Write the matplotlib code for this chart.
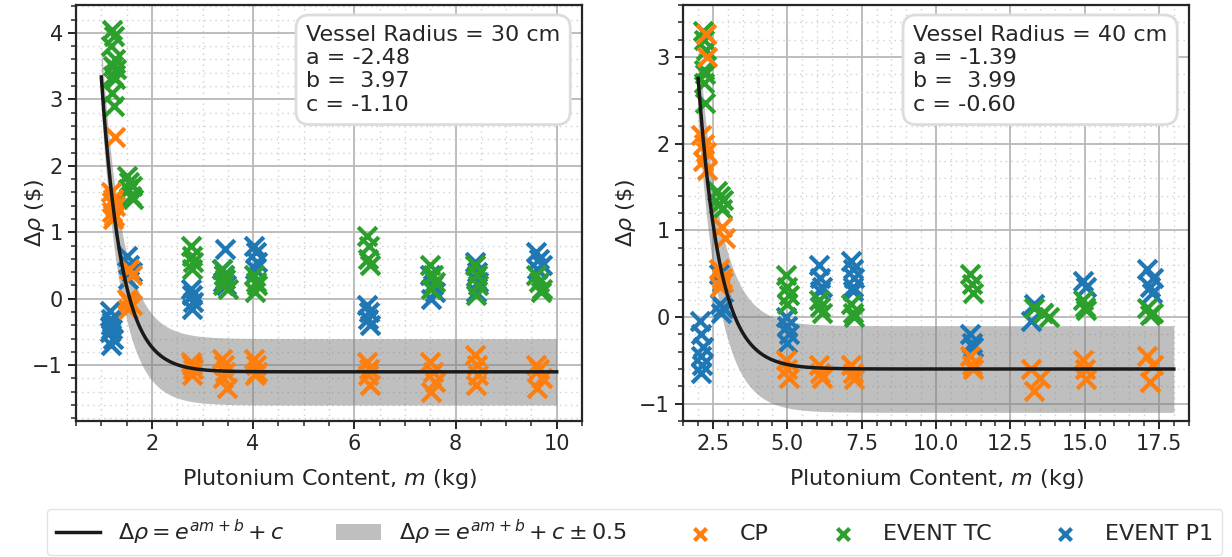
import matplotlib
matplotlib.use("Agg")
import matplotlib.pyplot as plt
import numpy as np

# general look
plt.rcParams.update({
    "font.family": "DejaVu Sans",
    "font.size": 16,
    "xtick.labelsize": 15,
    "ytick.labelsize": 15,
    "text.color": "#262626",
    "axes.labelcolor": "#262626",
    "xtick.color": "#262626",
    "ytick.color": "#262626",
    "axes.edgecolor": "#262626",
    "axes.linewidth": 1.6,
    "xtick.major.size": 6, "ytick.major.size": 6,
    "xtick.minor.size": 3.5, "ytick.minor.size": 3.5,
    "xtick.major.width": 1.4, "ytick.major.width": 1.4,
    "xtick.minor.width": 1.1, "ytick.minor.width": 1.1,
    "xtick.minor.visible": True, "ytick.minor.visible": True,
    "mathtext.fontset": "dejavusans",
})

c_cp = "#ff7f0e"
c_tc = "#2ca02c"
c_p1 = "#1f77b4"

# ---- vessel radius 30 cm ----
fit30 = (-2.48, 3.97, -1.10)
m_range30 = (1.0, 10.0)

cp30_m = [1.27,
          1.20, 1.24, 1.22, 1.27, 1.21, 1.25, 1.23,
          1.55, 1.60, 1.50, 1.55, 1.60, 1.52,
          2.78, 2.80, 2.82, 2.79,
          3.38, 3.42, 3.45, 3.40, 3.48,
          4.02, 4.05, 4.08, 4.04,
          6.25, 6.30, 6.28, 6.32,
          7.50, 7.55, 7.60, 7.52,
          8.38, 8.42, 8.45, 8.40,
          9.60, 9.65, 9.70, 9.62]
cp30_drho = [2.43,
             1.60, 1.50, 1.45, 1.40, 1.30, 1.25, 1.20,
             0.45, 0.35, 0.00, -0.05, -0.10, -0.15,
             -0.95, -1.00, -1.05, -1.15,
             -0.90, -1.00, -1.10, -1.20, -1.35,
             -0.90, -1.00, -1.10, -1.15,
             -0.95, -1.05, -1.15, -1.30,
             -0.95, -1.10, -1.25, -1.40,
             -0.85, -1.00, -1.15, -1.30,
             -1.00, -1.05, -1.20, -1.35]

tc30_m = [1.22, 1.25, 1.20, 1.27, 1.23, 1.30, 1.24, 1.28, 1.21, 1.26,
          1.50, 1.55, 1.60, 1.52, 1.58, 1.62,
          2.78, 2.80, 2.82, 2.79,
          3.38, 3.42, 3.45, 3.40, 3.50,
          4.02, 4.05, 4.08, 4.04,
          6.25, 6.30, 6.28, 6.32,
          7.50, 7.55, 7.60, 7.52,
          8.38, 8.42, 8.45, 8.40,
          9.60, 9.65, 9.70, 9.68]
tc30_drho = [4.05, 3.95, 3.80, 3.60, 3.50, 3.45, 3.35, 3.30, 3.10, 2.90,
             1.85, 1.75, 1.70, 1.65, 1.55, 1.50,
             0.80, 0.65, 0.55, 0.45,
             0.45, 0.35, 0.30, 0.20, 0.15,
             0.35, 0.25, 0.20, 0.10,
             0.95, 0.80, 0.60, 0.50,
             0.50, 0.35, 0.25, 0.15,
             0.50, 0.35, 0.20, 0.05,
             0.35, 0.25, 0.15, 0.10]

p130_m = [1.18, 1.20, 1.22, 1.19, 1.21, 1.17, 1.23, 1.20,
          1.50, 1.55, 1.60, 1.53,
          2.78, 2.80, 2.82, 2.80,
          3.45, 3.38, 3.42, 3.40, 3.47,
          4.02, 4.05, 4.08, 4.04,
          6.25, 6.30, 6.28, 6.32,
          7.50, 7.55, 7.60, 7.52,
          8.38, 8.42, 8.45, 8.40,
          9.60, 9.65, 9.70, 9.62]
p130_drho = [-0.18, -0.30, -0.35, -0.40, -0.45, -0.50, -0.60, -0.70,
             0.65, 0.50, 0.40, 0.30,
             0.15, 0.05, -0.05, -0.15,
             0.75, 0.45, 0.35, 0.25, 0.20,
             0.80, 0.70, 0.55, 0.45,
             -0.10, -0.20, -0.30, -0.40,
             0.35, 0.20, 0.10, 0.00,
             0.55, 0.40, 0.25, 0.10,
             0.70, 0.60, 0.50, 0.45]

# ---- vessel radius 40 cm ----
fit40 = (-1.39, 3.99, -0.60)
m_range40 = (2.0, 18.0)

cp40_m = [2.25, 2.30,
          2.10, 2.20, 2.25, 2.15, 2.30,
          2.80, 2.90,
          2.70, 2.80, 2.85, 2.75,
          4.95, 5.00, 5.05,
          6.05, 6.10, 6.15,
          7.15, 7.20, 7.25,
          11.15, 11.20, 11.25,
          13.20, 13.50, 13.30,
          14.95, 15.00, 15.05,
          17.10, 17.30, 17.20]
cp40_drho = [3.26, 3.00,
             2.10, 2.00, 1.90, 1.80, 1.70,
             1.04, 0.91,
             0.55, 0.45, 0.40, 0.35,
             -0.50, -0.60, -0.70,
             -0.55, -0.65, -0.70,
             -0.55, -0.65, -0.72,
             -0.45, -0.55, -0.60,
             -0.60, -0.70, -0.85,
             -0.50, -0.60, -0.72,
             -0.45, -0.55, -0.75]

tc40_m = [2.15, 2.20, 2.25, 2.18, 2.22, 2.20, 2.22,
          2.65, 2.75, 2.85, 2.70, 2.80,
          4.95, 5.00, 5.05, 5.00,
          6.05, 6.10, 6.15,
          7.15, 7.20, 7.25,
          11.15, 11.20, 11.25,
          13.30, 13.60, 13.80,
          14.95, 15.00, 15.05,
          17.10, 17.30, 17.20]
tc40_drho = [3.30, 3.20, 3.08, 2.85, 2.80, 2.70, 2.47,
             1.45, 1.40, 1.35, 1.30, 1.25,
             0.48, 0.35, 0.25, 0.15,
             0.20, 0.12, 0.05,
             0.15, 0.05, 0.00,
             0.50, 0.38, 0.28,
             0.10, 0.05, 0.00,
             0.20, 0.12, 0.08,
             0.10, 0.05, 0.02]

p140_m = [2.05, 2.10, 2.15, 2.08, 2.12, 2.10,
          2.70, 2.80, 2.75, 2.85, 2.78,
          4.95, 5.00, 5.05, 5.00,
          6.05, 6.10, 6.15, 6.10,
          7.15, 7.20, 7.25, 7.20, 7.22,
          11.15, 11.20, 11.25,
          13.30, 13.60, 13.20,
          14.95, 15.05,
          17.10, 17.30, 17.20, 17.25]
p140_drho = [-0.05, -0.20, -0.35, -0.45, -0.55, -0.65,
             0.50, 0.40, 0.15, 0.10, 0.05,
             0.00, -0.10, -0.20, -0.30,
             0.60, 0.45, 0.35, 0.30,
             0.65, 0.55, 0.45, 0.35, 0.30,
             -0.20, -0.30, -0.35,
             0.15, 0.05, -0.05,
             0.42, 0.35,
             0.55, 0.45, 0.35, 0.28]

panels = [
    dict(title="Vessel Radius = 30 cm", fit=fit30, m_range=m_range30,
         cp=(cp30_m, cp30_drho), tc=(tc30_m, tc30_drho), p1=(p130_m, p130_drho),
         xlim=(0.5, 10.5), ylim=(-1.84, 4.42), xticks=[2, 4, 6, 8, 10],
         ylab_x=-0.058),
    dict(title="Vessel Radius = 40 cm", fit=fit40, m_range=m_range40,
         cp=(cp40_m, cp40_drho), tc=(tc40_m, tc40_drho), p1=(p140_m, p140_drho),
         xlim=(1.49, 18.51), ylim=(-1.2, 3.6),
         xticks=[2.5, 5.0, 7.5, 10.0, 12.5, 15.0, 17.5],
         ylab_x=-0.088),
]

W, H = 1232, 557
fig = plt.figure(figsize=(W / 100, H / 100), dpi=100)
ax_boxes = [(76, 5, 582, 421), (683, 5, 1189, 421)]

for p, (x0, y0, x1, y1) in zip(panels, ax_boxes):
    ax = fig.add_axes([x0 / W, 1 - y1 / H, (x1 - x0) / W, (y1 - y0) / H])
    ax.set_axisbelow(True)
    ax.grid(which="major", color="#b8b8b8", lw=1.3)
    ax.grid(which="minor", color="#d0d0d0", lw=1.0, ls=(0, (1, 3)))

    a, b, c = p["fit"]
    m = np.linspace(*p["m_range"], 400)
    fit = np.exp(a * m + b) + c
    ax.fill_between(m, fit - 0.5, fit + 0.5, color="gray", alpha=0.5, lw=0,
                    label=r"$\Delta\rho = e^{am+b} + c \pm 0.5$", zorder=1)
    ax.plot(m, fit, color="#1a1a1a", lw=2.5,
            label=r"$\Delta\rho = e^{am+b} + c$", zorder=5)

    kw = dict(marker="x", s=180, linewidths=3, zorder=3)
    ax.scatter(*p["p1"], color=c_p1, label="EVENT P1", **kw)
    ax.scatter(*p["tc"], color=c_tc, label="EVENT TC", **kw)
    ax.scatter(*p["cp"], color=c_cp, label="CP", **kw)

    ax.set_xlim(*p["xlim"])
    ax.set_ylim(*p["ylim"])
    ax.set_xticks(p["xticks"])
    ax.set_xlabel("Plutonium Content, $m$ (kg)", labelpad=9)
    ax.set_ylabel(r"$\Delta\rho$ (\$)")
    ax.yaxis.set_label_coords(p["ylab_x"], 0.5)

    txt = "%s\na = %5.2f\nb = %5.2f\nc = %5.2f" % (p["title"], a, b, c)
    ax.text(0.957, 0.952, txt, transform=ax.transAxes, ha="right", va="top",
            multialignment="left", fontsize=16, linespacing=1.2, zorder=10,
            bbox=dict(boxstyle="round,pad=0.45,rounding_size=0.6",
                      fc="white", ec="#dcdcdc", lw=2))

    handles, labels = ax.get_legend_handles_labels()

order = [1, 0, 4, 3, 2]
fig.legend([handles[i] for i in order], [labels[i] for i in order],
           loc="center", bbox_to_anchor=(47 / W, 3 / H, 1175 / W, 44 / H),
           mode="expand", ncol=5, fontsize=16, frameon=True,
           edgecolor="#dcdcdc", fancybox=True, markerscale=0.65,
           borderaxespad=0)

fig.savefig("out.png", dpi=100)
